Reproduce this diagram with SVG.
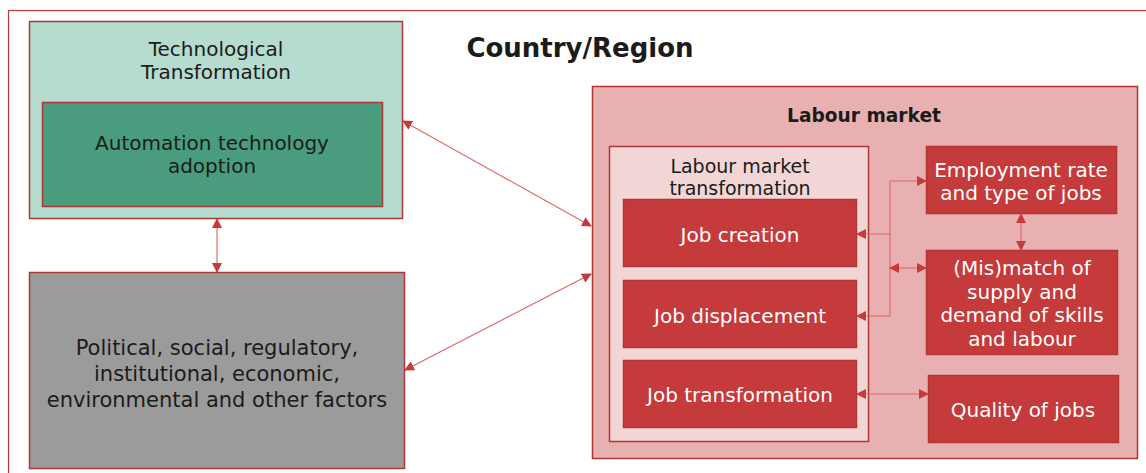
<svg xmlns="http://www.w3.org/2000/svg" width="1146" height="473" viewBox="0 0 1146 473">
  <defs>
    <marker id="ah" viewBox="0 0 10 10" refX="9" refY="5" markerWidth="10" markerHeight="10" markerUnits="userSpaceOnUse" orient="auto-start-reverse">
      <path d="M0,0 L10,5 L0,10 z" fill="#c83a3a"/>
    </marker>
    <style>
      .frame { fill: none; stroke: #b23b3b; stroke-width: 1.2; }
      .box { stroke: #b03636; stroke-width: 1.5; }
      .t { font-family: "DejaVu Sans", "Liberation Sans", sans-serif; font-size: 20px; text-anchor: middle; dominant-baseline: central; fill: #1b1b1b; }
      .w { fill: #ffffff; }
      .b { font-weight: bold; }
      .link { fill: none; stroke: #e06464; stroke-width: 1.1; }
    </style>
  </defs>

  <rect x="0" y="0" width="1146" height="473" fill="#ffffff"/>
  <!-- country / region frame -->
  <rect class="frame" x="8.5" y="10.5" width="1160" height="480"/>
  <text class="t b" x="580" y="48" style="font-size:26px">Country/Region</text>

  <g id="tech">
    <rect class="box" x="29.5" y="21.5" width="373" height="197" fill="#b6dbcf"/>
    <text class="t" x="216" y="49">Technological</text>
    <text class="t" x="216" y="72">Transformation</text>
  </g>
  <g id="automation">
    <rect class="box" x="42.5" y="102.5" width="340" height="104" fill="#4a9c7e"/>
    <text class="t" x="212" y="143">Automation technology</text>
    <text class="t" x="212" y="166">adoption</text>
  </g>
  <g id="factors">
    <rect class="box" x="29.5" y="272.5" width="375" height="196" fill="#9b9b9b"/>
    <text class="t" x="217" y="348" style="font-size:21px">Political, social, regulatory,</text>
    <text class="t" x="217" y="374" style="font-size:21px">institutional, economic,</text>
    <text class="t" x="217" y="400" style="font-size:21px">environmental and other factors</text>
  </g>
  <g id="labour-market">
    <rect class="box" x="592.5" y="86.5" width="545" height="372" fill="#e8b0b0"/>
    <text class="t b" x="864" y="115" style="font-size:18.6px">Labour market</text>
  </g>
  <g id="lm-transformation">
    <rect class="box" x="609.5" y="146.5" width="259" height="295" fill="#f2d6d6" stroke-width="1.2"/>
    <text class="t" x="740" y="166" style="font-size:19px">Labour market</text>
    <text class="t" x="740" y="188" style="font-size:19px">transformation</text>
  </g>
  <g id="job-creation">
    <rect class="box" x="623.5" y="199.5" width="233" height="67" fill="#c53a3a"/>
    <text class="t w" x="740" y="235">Job creation</text>
  </g>
  <g id="job-displacement">
    <rect class="box" x="623.5" y="280.5" width="233" height="67" fill="#c53a3a"/>
    <text class="t w" x="740" y="316">Job displacement</text>
  </g>
  <g id="job-transformation">
    <rect class="box" x="623.5" y="360.5" width="233" height="67" fill="#c53a3a"/>
    <text class="t w" x="740" y="395">Job transformation</text>
  </g>
  <g id="employment">
    <rect class="box" x="926.5" y="146.5" width="190" height="67" fill="#c53a3a"/>
    <text class="t w" x="1021" y="170">Employment rate</text>
    <text class="t w" x="1021" y="193">and type of jobs</text>
  </g>
  <g id="mismatch">
    <rect class="box" x="926.5" y="250.5" width="191" height="104" fill="#c53a3a"/>
    <text class="t w" x="1022" y="268">(Mis)match of</text>
    <text class="t w" x="1022" y="292">supply and</text>
    <text class="t w" x="1022" y="315">demand of skills</text>
    <text class="t w" x="1022" y="339">and labour</text>
  </g>
  <g id="quality">
    <rect class="box" x="928.5" y="375.5" width="190" height="67" fill="#c53a3a"/>
    <text class="t w" x="1023" y="410">Quality of jobs</text>
  </g>

  <g id="connectors">
    <line class="link" x1="403" y1="121" x2="591" y2="226" marker-start="url(#ah)" marker-end="url(#ah)"/>
    <line class="link" x1="405" y1="370" x2="591" y2="274" marker-start="url(#ah)" marker-end="url(#ah)"/>
    <line class="link" x1="217" y1="219" x2="217" y2="272" marker-start="url(#ah)" marker-end="url(#ah)"/>
    <polyline class="link" points="890,234 890,181 926,181" marker-end="url(#ah)"/>
    <line class="link" x1="890" y1="234" x2="857" y2="234" marker-end="url(#ah)"/>
    <polyline class="link" points="890,234 890,316 857,316" marker-end="url(#ah)"/>
    <line class="link" x1="890" y1="268" x2="926" y2="268" marker-start="url(#ah)" marker-end="url(#ah)"/>
    <line class="link" x1="1021" y1="214" x2="1021" y2="250" marker-start="url(#ah)" marker-end="url(#ah)"/>
    <line class="link" x1="857" y1="394" x2="928" y2="394" marker-start="url(#ah)" marker-end="url(#ah)"/>
  </g>
</svg>
